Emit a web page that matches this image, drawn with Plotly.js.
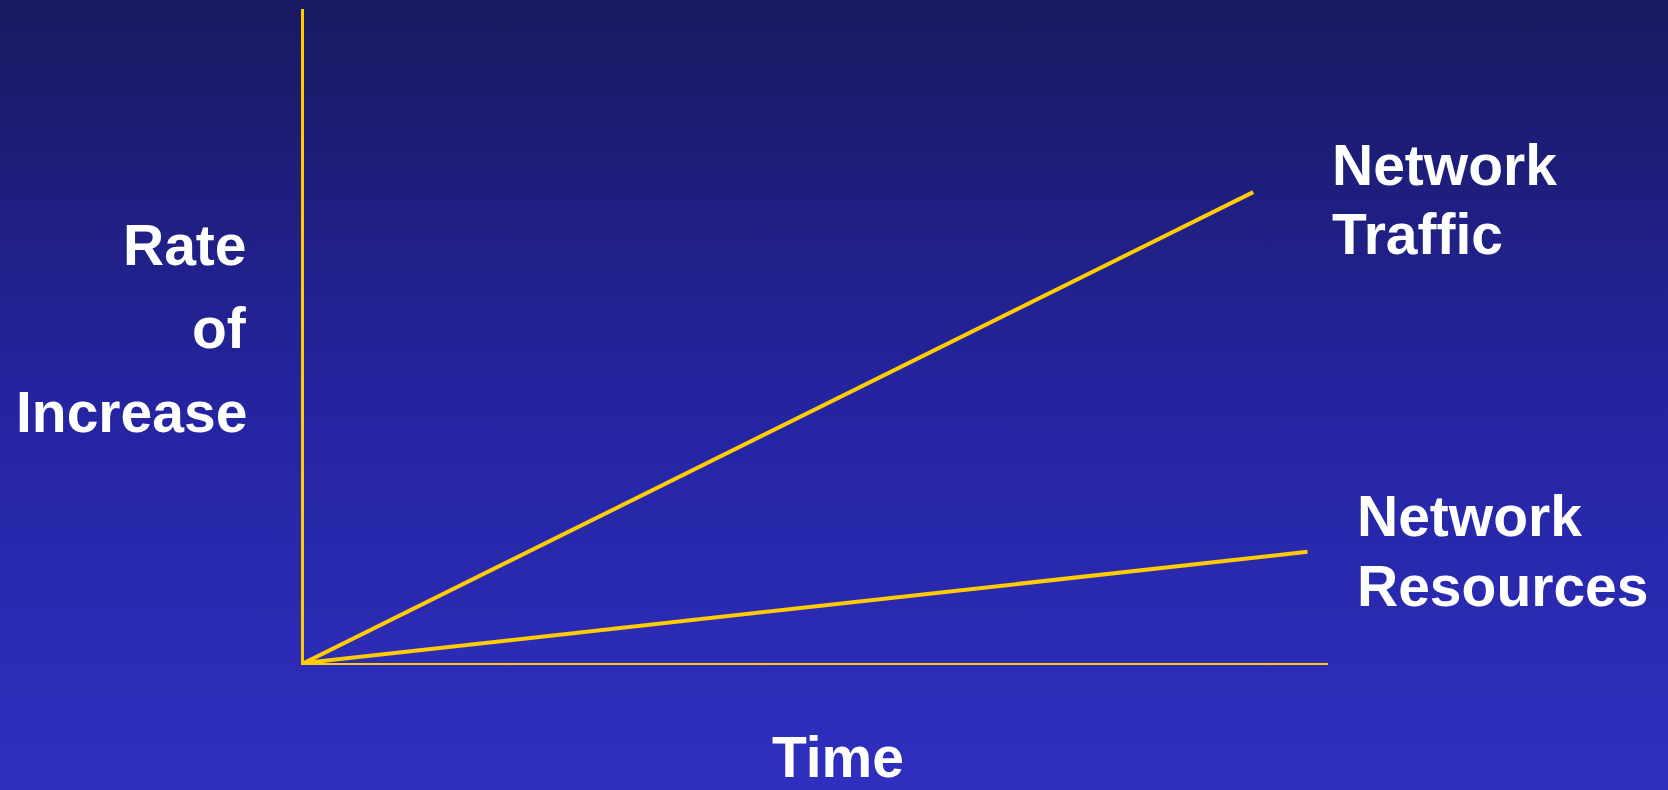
<!DOCTYPE html>
<html>
<head>
<meta charset="utf-8">
<script src="https://cdn.plot.ly/plotly-3.0.1.min.js"></script>
<style>
  html, body { margin: 0; padding: 0; width: 1668px; height: 790px; overflow: hidden;
    background: linear-gradient(to bottom, #19195f 0%, #2424a0 50%, #2f2fc0 100%); }
  #chart { width: 1668px; height: 790px; }
</style>
</head>
<body>
<div id="chart"></div>
<script>
// Data (arbitrary units)
const time = [0, 92.7];
const trafficRate = [0, 72.0];
const resourceTime = [0, 98.0];
const resourceRate = [0, 17.0];
const xAxisTitle = 'Time';
const yAxisLines = ['Rate', 'of', 'Increase'];
const trafficLabel = ['Network', 'Traffic'];
const resourceLabel = ['Network', 'Resources'];

const W = 1668, H = 790;
const M = {l: 304, r: 340, t: 9, b: 127};
const PW = W - M.l - M.r, PH = H - M.t - M.b;
const px = x => (x - M.l) / PW;
const py = y => (H - M.b - y) / PH;
const yellow = '#FFCC00';
const font = {family: 'Liberation Sans, Arial, sans-serif', size: 57, color: '#ffffff'};

function ann(text, x, y, xanchor) {
  return {text: '<b>' + text + '</b>', xref: 'paper', yref: 'paper', x: px(x), y: py(y),
    xanchor: xanchor, yanchor: 'middle', showarrow: false, font: font};
}

const traces = [
  {x: time, y: trafficRate, mode: 'lines', line: {color: yellow, width: 4}, hoverinfo: 'skip'},
  {x: resourceTime, y: resourceRate, mode: 'lines', line: {color: yellow, width: 4}, hoverinfo: 'skip'}
];

const layout = {
  width: W, height: H,
  margin: M,
  paper_bgcolor: 'rgba(0,0,0,0)',
  plot_bgcolor: 'rgba(0,0,0,0)',
  showlegend: false,
  xaxis: {range: [0, 100], showline: true, linecolor: yellow, linewidth: 2, showgrid: false,
    zeroline: false, showticklabels: false, ticks: '', fixedrange: true},
  yaxis: {range: [0, 100], showline: true, linecolor: yellow, linewidth: 3, showgrid: false,
    zeroline: false, showticklabels: false, ticks: '', fixedrange: true},
  annotations: [
    ann(xAxisTitle, 838, 757, 'center'),
    ann(yAxisLines[0], 249, 245, 'right'),
    ann(yAxisLines[1], 249, 328, 'right'),
    ann(yAxisLines[2], 249, 412, 'right'),
    ann(trafficLabel[0], 1330, 165, 'left'),
    ann(trafficLabel[1], 1330, 234, 'left'),
    ann(resourceLabel[0], 1355, 516, 'left'),
    ann(resourceLabel[1], 1355, 586, 'left')
  ]
};

Plotly.newPlot('chart', traces, layout, {displayModeBar: false, staticPlot: true});
</script>
</body>
</html>
